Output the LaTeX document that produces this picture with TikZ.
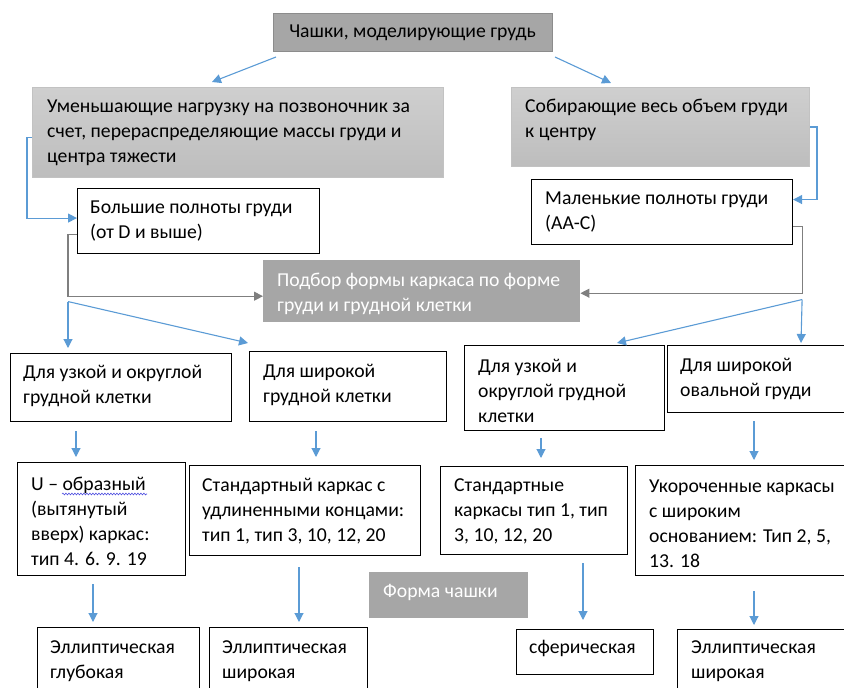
\documentclass[tikz,border=0pt]{standalone}
\usepackage{fontspec}
\setmainfont{Carlito}
\usetikzlibrary{arrows.meta,calc,decorations.pathmorphing}
\definecolor{cblue}{HTML}{5B9BD5}
\definecolor{cgray}{HTML}{7F7F7F}
\definecolor{dfill}{HTML}{A6A6A6}
\definecolor{dline}{HTML}{8C8C8C}
\definecolor{ltop}{HTML}{CFCFCF}
\definecolor{lbot}{HTML}{BDBDBD}
\definecolor{lline}{HTML}{C2C2C2}
\definecolor{spell}{HTML}{4F4FE0}
\begin{document}
\begin{tikzpicture}[x=1pt,y=-1pt,
  boxbase/.style={inner sep=0pt, anchor=north west, rectangle},
  wbox/.style={boxbase, draw=black, line width=1.1pt, fill=white},
  dbox/.style={boxbase, draw=dline, line width=1pt, fill=dfill},
  lbox/.style={boxbase, draw=lline, line width=1pt, top color=ltop, bottom color=lbot},
  mbox/.style={boxbase, draw=none, fill=dfill},
  txt/.style={anchor=base west, align=left, inner sep=0pt, font=\fontsize{19.7}{25}\selectfont},
  wtxt/.style={txt, text=white},
  ba/.style={draw=cblue, line width=1.1pt, -{Triangle[length=9pt,width=9pt]}},
  ga/.style={draw=cgray, line width=1.1pt, -{Triangle[length=9pt,width=9pt]}},
  wavy/.style={draw=spell, line width=0.6pt, decorate, decoration={snake, amplitude=0.9pt, segment length=3pt}}
]
\useasboundingbox (0,0) rectangle (844,688);

% boxes
\node[dbox, minimum width=279pt, minimum height=38pt] (top) at (273,13) {};
\node[lbox, minimum width=411pt, minimum height=90pt] (L1) at (32,87) {};
\node[lbox, minimum width=298pt, minimum height=79pt] (R1) at (511,87) {};
\node[wbox, minimum width=242pt, minimum height=65pt] (Big) at (77,188) {};
\node[wbox, minimum width=261pt, minimum height=65pt] (Small) at (531,179) {};
\node[mbox, minimum width=317pt, minimum height=62pt] (Mid) at (263,260) {};
\node[wbox, minimum width=221pt, minimum height=68pt] (A) at (10,353) {};
\node[wbox, minimum width=197pt, minimum height=70pt] (B) at (249,351) {};
\node[wbox, minimum width=200pt, minimum height=85pt] (C) at (464,345) {};
\node[wbox, minimum width=190pt, minimum height=67pt] (D) at (667,345) {};
\node[wbox, minimum width=168pt, minimum height=113pt] (E) at (17,462) {};
\node[wbox, minimum width=231pt, minimum height=90pt] (F) at (189,465) {};
\node[wbox, minimum width=187pt, minimum height=88pt] (G) at (440,466) {};
\node[wbox, minimum width=220pt, minimum height=110pt] (H) at (635,465) {};
\node[mbox, minimum width=159pt, minimum height=46pt] (Forma) at (369,572) {};
\node[wbox, minimum width=162pt, minimum height=70pt] (I) at (37,627) {};
\node[wbox, minimum width=158pt, minimum height=70pt] (J) at (209,627) {};
\node[wbox, minimum width=137pt, minimum height=45pt] (K) at (516,629) {};
\node[wbox, minimum width=180pt, minimum height=70pt] (L) at (677,629) {};

% texts (anchored at the baseline of the last line)
\node[txt, anchor=base] (topt) at (412.5,37) {Чашки, моделирующие грудь};
\node[txt] (L1t) at (47,162) {Уменьшающие нагрузку на позвоночник за\\счет, перераспределяющие массы груди и\\центра тяжести};
\node[txt] (R1t) at (525,137.5) {Собирающие весь объем груди\\к центру};
\node[txt] (Bigt) at (90,238) {Большие полноты груди\\(от D и выше)};
\node[txt] (Smallt) at (545,229) {Маленькие полноты груди\\(АА-С)};
\node[wtxt] (Midt) at (277,311) {Подбор формы каркаса по форме\\груди и грудной клетки};
\node[txt] (At) at (23,403) {Для узкой и округлой\\грудной клетки};
\node[txt] (Bt) at (263,402) {Для широкой\\грудной клетки};
\node[txt] (Ct) at (478,422) {Для узкой и\\округлой грудной\\клетки};
\node[txt] (Dt) at (680,396) {Для широкой\\овальной груди};
\node[txt] (Et) at (31,565) {U – образный\\(вытянутый\\вверх) каркас:\\тип 4. 6. 9. 19};
\node[txt] (Ft) at (202,541) {Стандартный каркас с\\удлиненными концами:\\тип 1, тип 3, 10, 12, 20};
\node[txt] (Gt) at (454,541) {Стандартные\\каркасы тип 1, тип\\3, 10, 12, 20};
\node[txt] (Ht) at (649,567) {Укороченные каркасы\\с широким\\основанием: Тип 2, 5,\\13. 18};
\node[wtxt] (Format) at (383,597) {Форма чашки};
\node[txt] (It) at (50,678) {Эллиптическая\\глубокая};
\node[txt] (Jt) at (222,678) {Эллиптическая\\широкая};
\node[txt] (Kt) at (529,653) {сферическая};
\node[txt] (Lt) at (691,678) {Эллиптическая\\широкая};

% spell-check underline
\draw[wavy] (62,494) -- (147,494);

% connectors
\draw[ba] ($(top.south west)+(3,5)$) -- ($(L1.north west)+(180,-5)$);
\draw[ba] ($(top.south east)+(2,5)$) -- ($(R1.north west)+(100,-4)$);
\draw[ba] ($(L1.west)+(0,5)$) -- ++(-5,0) |- ($(Big.west)+(0,-3)$);
\draw[ba] (R1.east) -- ++(7,0) |- ($(Small.east)+(0,-12.5)$);
\draw[ga] ($(Big.west)+(0,13.5)$) -- ++(-9,0) |- ($(Mid.west)+(0,5)$);
\draw[ga] ($(Small.east)+(0,14.5)$) -- ++(9,0) |- ($(Mid.east)+(0,2)$);
\coordinate (sL) at ($(Big.west)+(-9,80.5)$);
\coordinate (sR) at ($(Small.east)+(9,87.5)$);
\draw[ba] (sL) -- ($(A.north west)+(58,-5)$);
\draw[ba] (sL) -- ($(B.north west)+(-1,-8)$);
\draw[ba] (sR) -- ($(D.north west)+(134,-2)$);
\draw[ba] (sR) -- ($(C.north west)+(153,-2)$);
\draw[ba] ($(A.south west)+(66,9)$) -- ($(E.north west)+(59,-5)$);
\draw[ba] ($(B.south west)+(67,9)$) -- ($(F.north west)+(127,-8)$);
\draw[ba] ($(C.south west)+(77,7)$) -- ($(G.north west)+(101,-8)$);
\draw[ba] ($(D.south west)+(87,8)$) -- ($(H.north west)+(119,-5)$);
\draw[ba] ($(E.south west)+(76,8)$) -- ($(I.north west)+(56,-5)$);
\draw[ba] ($(F.south west)+(110,11)$) -- ($(J.north west)+(90,-5)$);
\draw[ba] ($(G.south west)+(143,8)$) -- ($(K.north west)+(67,-9)$);
\draw[ba] ($(H.south west)+(119,15)$) -- ($(L.north west)+(77,-4)$);
\end{tikzpicture}
\end{document}
